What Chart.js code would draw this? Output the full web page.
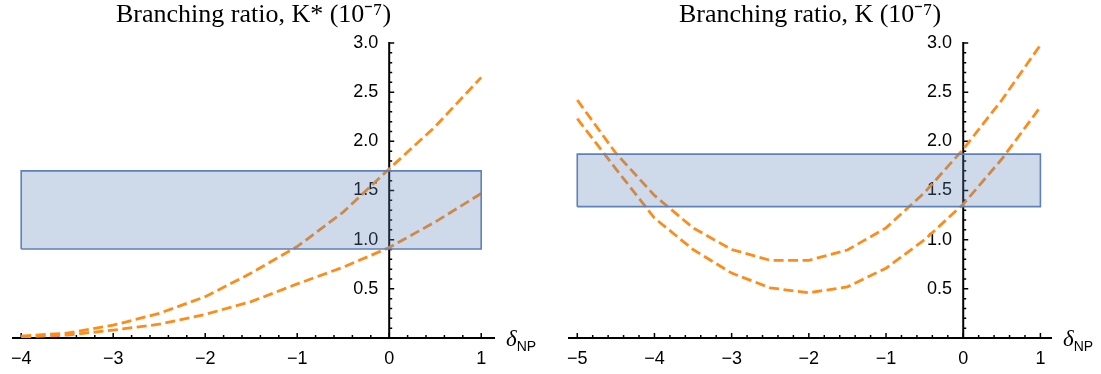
<!DOCTYPE html>
<html>
<head>
<meta charset="utf-8">
<script src="https://cdn.jsdelivr.net/npm/chart.js@4"></script>
<style>
  body { margin: 0; background: #fff; }
  #wrap { position: relative; width: 1101px; height: 374px; }
  canvas { position: absolute; top: 0; }
</style>
</head>
<body>
<div id="wrap">
  <canvas id="kstar" width="550" height="374" style="left:0"></canvas>
  <canvas id="kplus" width="551" height="374" style="left:550px"></canvas>
</div>
<script>
// left panel: K*
const kstarX = [-4, -3.5, -3, -2.5, -2, -1.5, -1, -0.5, 0, 0.5, 1];
const kstarHigh = [0.02, 0.05, 0.13, 0.25, 0.42, 0.66, 0.93, 1.28, 1.72, 2.15, 2.65];
const kstarLow = [0.01, 0.03, 0.08, 0.14, 0.24, 0.37, 0.55, 0.72, 0.92, 1.18, 1.47];
const kstarBand = [0.905, 1.70];
const kstarXTicks = [-4, -3, -2, -1, 0, 1];

// right panel: K
const kX = [-5, -4.5, -4, -3.5, -3, -2.5, -2, -1.5, -1, -0.5, 0, 0.5, 1];
const kHigh = [2.42, 1.88, 1.45, 1.12, 0.90, 0.79, 0.79, 0.895, 1.12, 1.48, 1.92, 2.42, 2.98];
const kLow = [2.23, 1.72, 1.22, 0.90, 0.66, 0.51, 0.46, 0.52, 0.71, 1.00, 1.36, 1.82, 2.35];
const kBand = [1.336, 1.87];
const kXTicks = [-5, -4, -3, -2, -1, 0, 1];

const yTicks = [0, 0.5, 1, 1.5, 2, 2.5, 3];

const orange = '#ff8c1a';
const blue = '#5d81b9';
const sans = "'Liberation Sans', Arial, sans-serif";
const serif = "'Liberation Serif', 'Times New Roman', serif";

const toPts = (xs, ys) => xs.map((x, i) => ({x: x, y: ys[i]}));

// axes through the origin, Mathematica style, with minor ticks
const originAxes = {
  id: 'originAxes',
  beforeDatasetsDraw(chart) {
    const {ctx, chartArea, scales: {x, y}} = chart;
    const x0 = x.getPixelForValue(0), y0 = y.getPixelForValue(0);
    ctx.save();
    ctx.strokeStyle = '#000';
    ctx.lineWidth = 2;
    ctx.beginPath();
    ctx.moveTo(chartArea.left, y0); ctx.lineTo(chartArea.right, y0);
    ctx.moveTo(x0, y0); ctx.lineTo(x0, y.getPixelForValue(y.max) - 1);
    ctx.stroke();
    ctx.lineWidth = 1.5;
    ctx.beginPath();
    for (let i = Math.ceil(x.min * 5); i <= Math.floor(x.max * 5 + 1e-9); i++) {
      const px = x.getPixelForValue(i / 5);
      const len = i % 5 === 0 ? 5 : 3;
      ctx.moveTo(px, y0); ctx.lineTo(px, y0 - len);
    }
    for (let i = 1; i <= Math.round(y.max * 10); i++) {
      const py = y.getPixelForValue(i / 10);
      const len = i % 5 === 0 ? 5 : 3;
      ctx.moveTo(x0, py); ctx.lineTo(x0 + len, py);
    }
    ctx.stroke();
    ctx.restore();
  },
  afterDraw(chart) {
    const {ctx, chartArea, scales: {y}} = chart;
    const y0 = y.getPixelForValue(0);
    const lx = chartArea.right + 11;
    ctx.save();
    ctx.fillStyle = '#000';
    ctx.textBaseline = 'alphabetic';
    ctx.font = 'italic 23px ' + serif;
    ctx.fillText('δ', lx, y0 + 8);
    const w = ctx.measureText('δ').width;
    ctx.font = '14px ' + sans;
    ctx.fillText('NP', lx + w, y0 + 13);
    ctx.restore();
  }
};

// labelShift: where (in x units) the right edge of the y tick labels sits, just left of the axis
function makeChart(id, title, xs, high, low, band, xTicks, xRange, labelShift, pad) {
  const ctx = document.getElementById(id).getContext('2d');
  return new Chart(ctx, {
    type: 'line',
    data: {
      datasets: [
        {
          // band outline
          data: toPts([xs[0], xs[xs.length - 1], xs[xs.length - 1], xs[0], xs[0]],
                      [band[0], band[0], band[1], band[1], band[0]]),
          borderColor: blue,
          borderWidth: 1.6,
          fill: false,
          pointRadius: 0
        },
        {
          // band fill
          data: toPts([xs[0], xs[xs.length - 1]], [band[1], band[1]]),
          borderWidth: 0,
          borderColor: 'rgba(0,0,0,0)',
          backgroundColor: 'rgba(94,129,181,0.3)',
          fill: {value: band[0]},
          pointRadius: 0
        },
        {
          data: toPts(xs, high),
          borderColor: orange,
          borderWidth: 2.8,
          borderDash: [10, 4.5],
          fill: false,
          pointRadius: 0
        },
        {
          data: toPts(xs, low),
          borderColor: orange,
          borderWidth: 2.8,
          borderDash: [10, 4.5],
          fill: false,
          pointRadius: 0
        }
      ]
    },
    options: {
      responsive: false,
      animation: false,
      devicePixelRatio: 1,
      layout: {padding: pad},
      plugins: {
        legend: {display: false},
        tooltip: {enabled: false},
        title: {
          display: true,
          text: title,
          color: '#000',
          font: {family: serif, size: 26, weight: 'normal', lineHeight: 1.1},
          padding: {top: 1, bottom: 42 - 26 * 1.1}
        }
      },
      scales: {
        x: {
          type: 'linear',
          position: {y: 0},
          min: xRange[0],
          max: xRange[1],
          afterBuildTicks: s => { s.ticks = xTicks.map(v => ({value: v})); },
          ticks: {
            color: '#000',
            font: {family: sans, size: 18},
            padding: 10,
            maxRotation: 0,
            callback: v => (v < 0 ? '\u2212' + Math.abs(v) : String(v))
          },
          grid: {display: false, drawTicks: false},
          border: {display: false}
        },
        y: {
          type: 'linear',
          position: {x: labelShift},
          min: 0,
          max: 3,
          afterBuildTicks: s => { s.ticks = yTicks.map(v => ({value: v})); },
          ticks: {
            color: '#000',
            font: {family: sans, size: 18},
            callback: v => (v === 0 ? '' : v.toFixed(1))
          },
          grid: {display: false, drawTicks: false},
          border: {display: false}
        }
      }
    },
    plugins: [originAxes]
  });
}

makeChart('kstar', 'Branching ratio, K* (10\u207B\u2077)', kstarX, kstarHigh, kstarLow, kstarBand,
  kstarXTicks, [-4.1, 1.15], -0.12, {left: 12, right: 55, top: 0, bottom: 36});
makeChart('kplus', 'Branching ratio, K (10\u207B\u2077)', kX, kHigh, kLow, kBand,
  kXTicks, [-5.12, 1.15], -0.145, {left: 18, right: 49, top: 0, bottom: 36});
</script>
</body>
</html>
